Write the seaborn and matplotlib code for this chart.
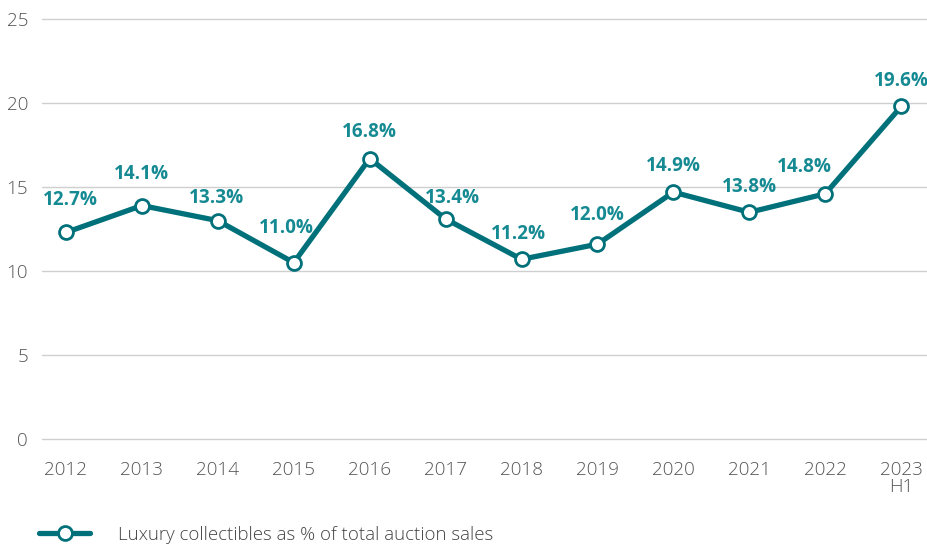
import matplotlib
matplotlib.use("Agg")
import matplotlib.pyplot as plt
import seaborn as sns
import pandas as pd
from matplotlib.lines import Line2D

years = ["2012", "2013", "2014", "2015", "2016", "2017", "2018", "2019", "2020", "2021", "2022", "2023\nH1"]
values = [12.3, 13.9, 13.0, 10.5, 16.7, 13.1, 10.7, 11.6, 14.7, 13.5, 14.6, 19.8]
labels = ["12.7%", "14.1%", "13.3%", "11.0%", "16.8%", "13.4%", "11.2%", "12.0%", "14.9%", "13.8%", "14.8%", "19.6%"]
series_name = "Luxury collectibles as % of total auction sales"

# label offsets in points (dx, dy) - styling only
offsets = [(3, 23), (0, 23), (-1, 16), (-5, 25), (0, 19), (5, 15), (-2, 18), (0, 21), (0, 19), (0, 18), (-15, 19), (0, 18)]

sns.set_theme(style="white")
plt.rcParams['font.family'] = ['Open Sans', 'DejaVu Sans']

teal = "#00717a"
label_col = "#168a93"
fs = 13.6

df = pd.DataFrame({"x": range(len(years)), "value": values, "series": series_name})

fig = plt.figure(figsize=(9.27, 5.48), dpi=100)
ax = fig.add_axes([0.0453, 0.199, 0.9547, 0.766])

sns.lineplot(data=df, x="x", y="value", hue="series", palette=[teal], ax=ax,
             linewidth=3.8, marker="o", markersize=10, markerfacecolor="white",
             markeredgecolor=teal, markeredgewidth=2.0, legend=False)

for i, (v, lab) in enumerate(zip(values, labels)):
    dx, dy = offsets[i]
    ax.annotate(lab, (i, v), xytext=(dx, dy), textcoords="offset points",
                ha="center", va="center", fontsize=fs, fontweight="bold", color=label_col)

ax.set_xlim(-0.316, 11.34)
ax.set_ylim(0, 25)
ax.set_yticks([0, 5, 10, 15, 20, 25])
ax.set_xticks(range(len(years)))
ax.set_xticklabels(years, linespacing=0.95)
ax.tick_params(axis="both", length=0, labelsize=fs, labelcolor="#555555")
ax.tick_params(axis="x", pad=16)
ax.tick_params(axis="y", pad=10)
for lab in ax.get_xticklabels() + ax.get_yticklabels():
    lab.set_fontweight("light")
ax.grid(axis="y", color="#cfcfcf", linewidth=1.0)
ax.grid(axis="x", visible=False)
for gl in ax.get_ygridlines():
    gl.set_clip_on(False)
for s in ax.spines.values():
    s.set_visible(False)
ax.set_xlabel("")
ax.set_ylabel("")

handle = Line2D([], [], color=teal, linewidth=3.8, marker="o", markersize=10,
                markerfacecolor="white", markeredgecolor=teal, markeredgewidth=2.0)
leg = fig.legend([handle], [series_name], loc="center left", bbox_to_anchor=(0.042, 0.024),
                 frameon=False, handlelength=2.75, handletextpad=1.5, fontsize=13.4,
                 borderaxespad=0, borderpad=0)
for t in leg.get_texts():
    t.set_color("#444444")
    t.set_fontweight("light")

fig.savefig("out.png", dpi=100)
